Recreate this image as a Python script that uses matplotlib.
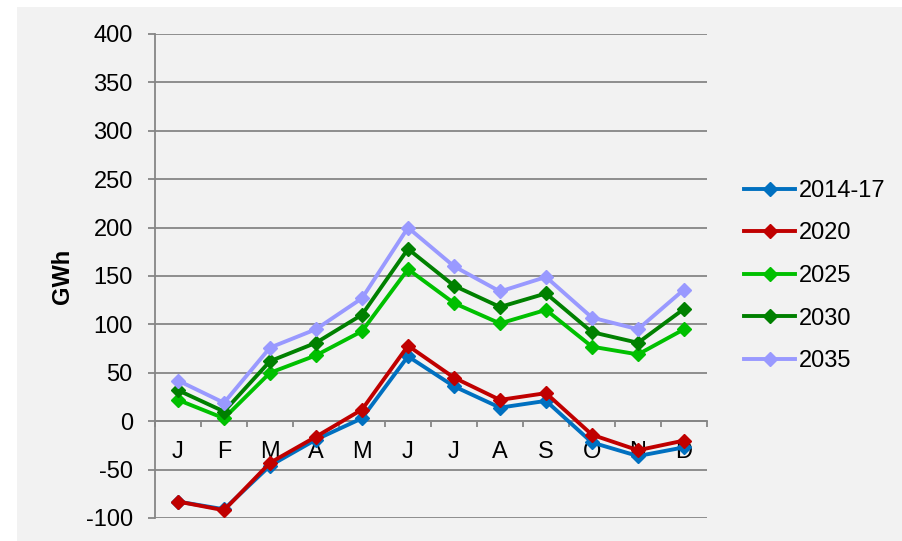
import matplotlib.pyplot as plt
from matplotlib.patches import Rectangle
from matplotlib.ticker import FixedLocator, NullFormatter

plt.rcParams['font.family'] = ['Liberation Sans', 'DejaVu Sans']
plt.rcParams['axes.unicode_minus'] = False

months = ["J", "F", "M", "A", "M", "J", "J", "A", "S", "O", "N", "D"]
series_names = ["2014-17", "2020", "2025", "2030", "2035"]

gwh_2014_17 = [-83, -91, -46, -19, 3, 67, 36, 14, 21, -22, -36, -27]
gwh_2020 = [-83, -92, -43, -16, 12, 78, 45, 22, 29, -14, -30, -20]
gwh_2025 = [22, 3, 50, 68, 93, 157, 122, 101, 115, 77, 69, 95]
gwh_2030 = [32, 10, 62, 81, 110, 178, 140, 118, 132, 92, 81, 116]
gwh_2035 = [42, 19, 76, 95, 127, 200, 160, 134, 149, 107, 95, 136]

all_series = [gwh_2014_17, gwh_2020, gwh_2025, gwh_2030, gwh_2035]
colors = ["#0070C0", "#C00000", "#00C000", "#008000", "#9999FF"]

grid_col = "#868686"
fs = 17

fig = plt.figure(figsize=(9.02, 5.41), dpi=100)
fig.patch.set_facecolor("white")
# grey chart area, like the office chart background
fig.patches.append(Rectangle((17 / 902, 0), 1, 1 - 7 / 541, transform=fig.transFigure,
                             facecolor="#F2F2F2", edgecolor="none", zorder=-5))

ax = fig.add_axes([155 / 902, 1 - 518 / 541, 552 / 902, 484 / 541])
ax.set_facecolor("none")

x = list(range(len(months)))
for vals, name, c in zip(all_series, series_names, colors):
    ax.plot(x, vals, color=c, lw=2.8, marker="D", ms=6.8, label=name, zorder=3)

ax.set_xlim(-0.5, 11.5)
ax.set_ylim(-100, 400)
ax.set_yticks(range(-100, 401, 50))
ax.yaxis.grid(True, color=grid_col, lw=1.3)
ax.set_axisbelow(True)

for s in ["top", "right"]:
    ax.spines[s].set_visible(False)
ax.spines["left"].set_color(grid_col)
ax.spines["left"].set_linewidth(1.3)
ax.spines["bottom"].set_position(("data", 0))
ax.spines["bottom"].set_color(grid_col)
ax.spines["bottom"].set_linewidth(1.3)

ax.tick_params(axis="y", length=5, width=1.3, color=grid_col, labelsize=fs, pad=11)
ax.set_xticks(x)
ax.set_xticklabels(months)
ax.tick_params(axis="x", which="major", length=0, labelsize=fs, pad=14)
ax.xaxis.set_minor_locator(FixedLocator([i - 0.5 for i in range(13)]))
ax.xaxis.set_minor_formatter(NullFormatter())
ax.tick_params(axis="x", which="minor", length=4.5, width=1.3, color=grid_col, direction="out")

fig.text(63 / 902, 1 - 276 / 541, "GWh", rotation=90, ha="center", va="center",
         fontsize=fs, fontweight="bold")

fig.legend(loc="center left", bbox_to_anchor=(744 / 902, 1 - 276 / 541), frameon=False,
           fontsize=fs, borderpad=0, borderaxespad=0, handlelength=2.16,
           handletextpad=0.17, labelspacing=0.87)

fig.savefig("out.png", dpi=100)
